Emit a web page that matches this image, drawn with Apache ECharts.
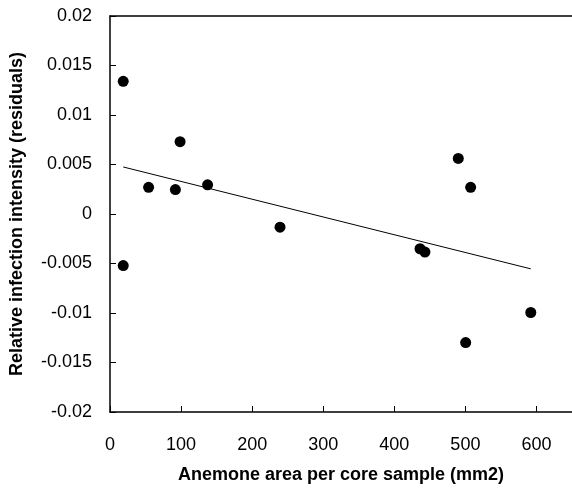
<!DOCTYPE html>
<html>
<head>
<meta charset="utf-8">
<script src="https://cdn.jsdelivr.net/npm/echarts@6/dist/echarts.min.js"></script>
<style>
  html, body { margin: 0; padding: 0; background: #fff; }
  #chart { width: 572px; height: 489px; }
</style>
</head>
<body>
<div id="chart"></div>
<script>
// anemone area (mm2) and residual infection intensity
const areaX = [18.6, 54.3, 92, 98.6, 137.3, 490, 507.4, 18.6, 239.2, 436.2, 443.1, 500.4, 592];
const residualY = [0.0134, 0.0027, 0.00247, 0.00731, 0.00295, 0.00561, 0.0027, -0.00521, -0.00133, -0.00351, -0.00384, -0.01299, -0.00995];
// fitted trend line end points
const trendX = [18.6, 592];
const trendY = [0.00475, -0.00554];

const FONT = "Liberation Sans, Arial, Helvetica, sans-serif";

const chart = echarts.init(document.getElementById("chart"));

const option = {
  animation: false,
  grid: {
    left: 110,
    top: 16,
    width: 465.8,
    height: 398.5,
    containLabel: false
  },
  xAxis: [
    {
      type: "value",
      min: 0,
      max: 650,
      interval: 100,
      name: "Anemone area per core sample (mm2)",
      nameLocation: "middle",
      nameGap: 54,
      nameTextStyle: { fontFamily: FONT, fontSize: 18, fontWeight: "bold", color: "#000" },
      axisLine: { show: true, onZero: false, lineStyle: { color: "#000", width: 1.5 } },
      axisTick: { show: true, inside: true, length: 6, lineStyle: { color: "#000" } },
      axisLabel: {
        fontFamily: FONT, fontSize: 18, color: "#000", margin: 24,
        showMaxLabel: false
      },
      splitLine: { show: false }
    },
    {
      // top frame line only
      type: "value",
      position: "top",
      min: 0,
      max: 650,
      axisLine: { show: true, onZero: false, lineStyle: { color: "#000", width: 1.5 } },
      axisTick: { show: false },
      axisLabel: { show: false },
      splitLine: { show: false }
    }
  ],
  yAxis: {
    type: "value",
    min: -0.02,
    max: 0.02,
    interval: 0.005,
    name: "Relative infection intensity (residuals)",
    nameLocation: "middle",
    nameGap: 84,
    nameTextStyle: { fontFamily: FONT, fontSize: 18, fontWeight: "bold", color: "#000" },
    axisLine: { show: true, onZero: false, lineStyle: { color: "#000", width: 1.5 } },
    axisTick: { show: true, inside: true, length: 6, lineStyle: { color: "#000" } },
    axisLabel: {
      fontFamily: FONT, fontSize: 18, color: "#000", margin: 18,
      formatter: (v) => String(+v.toFixed(3))
    },
    splitLine: { show: false }
  },
  series: [
    {
      type: "scatter",
      data: areaX.map((x, i) => [x, residualY[i]]),
      symbol: "circle",
      symbolSize: 11,
      itemStyle: { color: "#000", opacity: 1 },
      z: 3
    },
    {
      type: "line",
      data: trendX.map((x, i) => [x, trendY[i]]),
      showSymbol: false,
      lineStyle: { color: "#000", width: 1 },
      z: 2
    }
  ]
};

chart.setOption(option);
</script>
</body>
</html>
